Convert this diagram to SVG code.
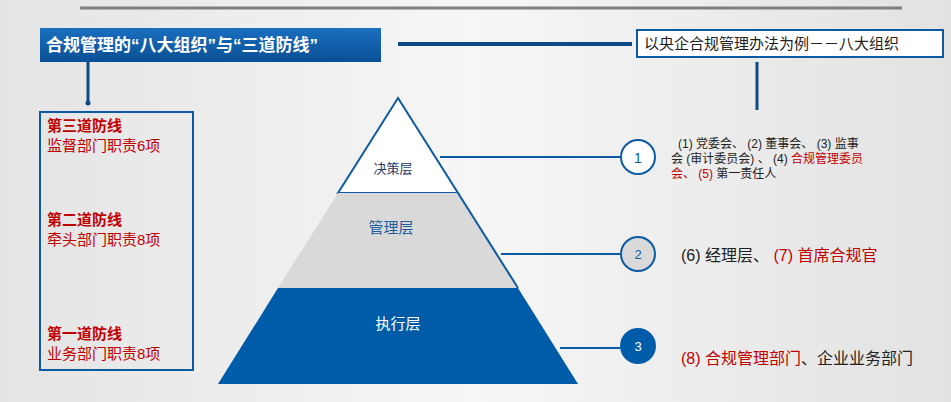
<svg xmlns="http://www.w3.org/2000/svg" width="951" height="402" viewBox="0 0 951 402">
<defs>
<linearGradient id="bg" x1="0" y1="0" x2="1" y2="0"><stop offset="0" stop-color="#e4e4e4"/><stop offset="0.5" stop-color="#f6f6f6"/><stop offset="1" stop-color="#e2e2e2"/></linearGradient>
<linearGradient id="tb" x1="0" y1="0" x2="0" y2="1"><stop offset="0" stop-color="#1a6fc0"/><stop offset="1" stop-color="#0a4f94"/></linearGradient>
<style>
text{font-family:"Liberation Sans","Noto Sans CJK SC",sans-serif}
.red{fill:#c00000}
.blk{fill:#222}
.ln{stroke:#0b5aa3;stroke-width:2;fill:none}
</style>
</defs>
<rect width="951" height="402" fill="url(#bg)"/>
<line x1="80" y1="8" x2="902" y2="8" stroke="#808080" stroke-width="3"/>
<g id="title">
<rect x="40" y="28" width="341" height="34" fill="url(#tb)"/>
<text x="46" y="51" font-size="17" font-weight="bold" fill="#fff">合规管理的“八大组织”与“三道防线”</text>
</g>
<g id="example">
<rect x="637" y="30" width="306" height="27" fill="#fff" stroke="#0b5aa3" stroke-width="2"/>
<text x="644" y="49" font-size="15" class="blk">以央企合规管理办法为例－－八大组织</text>
</g>
<g id="lines-box">
<rect x="40" y="112" width="153" height="258" fill="none" stroke="#0b5aa3" stroke-width="2"/>
<text x="47" y="131" font-size="15" font-weight="bold" class="red">第三道防线</text>
<text x="47" y="151" font-size="15" class="red">监督部门职责6项</text>
<text x="47" y="225" font-size="15" font-weight="bold" class="red">第二道防线</text>
<text x="47" y="245" font-size="15" class="red">牵头部门职责8项</text>
<text x="47" y="339" font-size="15" font-weight="bold" class="red">第一道防线</text>
<text x="47" y="359" font-size="15" class="red">业务部门职责8项</text>
</g>
<g id="pyramid">
<polygon points="398,98 458,193 338,193" fill="#fff" stroke="#0b5aa3" stroke-width="2"/>
<polygon points="338,193 458,193 518,288 278,288" fill="#d9d9d9"/>
<line x1="458" y1="193" x2="518" y2="288" stroke="#0b5aa3" stroke-width="2"/>
<polygon points="278,288 518,288 578,384 218,384" fill="#005ca8"/>
<text x="393" y="173" font-size="13" fill="#1f3864" text-anchor="middle">决策层</text>
<text x="391" y="233" font-size="15" fill="#1f5c9a" text-anchor="middle">管理层</text>
<text x="398" y="329" font-size="15" fill="#fff" text-anchor="middle">执行层</text>
</g>
<g id="connectors">
<line x1="88" y1="62" x2="88" y2="102" stroke="#0b4a85" stroke-width="3"/>
<circle cx="88" cy="103" r="2.5" fill="#0b4a85"/>
<line x1="398" y1="44" x2="632" y2="44" stroke="#0b4a85" stroke-width="4"/>
<line x1="757" y1="62" x2="757" y2="110" stroke="#0b4a85" stroke-width="3"/>
<line class="ln" x1="440" y1="157" x2="620" y2="157"/>
<line class="ln" x1="501" y1="254" x2="620" y2="254"/>
<line class="ln" x1="560" y1="348" x2="620" y2="348"/>
</g>
<g id="n1">
<circle cx="638" cy="157" r="17" fill="#fff" stroke="#0b5aa3" stroke-width="2"/>
<text x="638" y="163" font-size="14" fill="#0b5aa3" text-anchor="middle">1</text>
<text font-size="12" class="blk"><tspan x="678" y="148">(1) 党委会、 (2) 董事会、 (3) 监事</tspan><tspan x="671" y="163">会 (审计委员会) 、 (4) <tspan class="red">合规管理委员</tspan></tspan><tspan x="671" y="178"><tspan class="red">会、 (5)</tspan> 第一责任人</tspan></text>
</g>
<g id="n2">
<circle cx="638" cy="254" r="17" fill="#d9d9d9" stroke="#0b5aa3" stroke-width="2"/>
<text x="638" y="259" font-size="13" fill="#0b5aa3" text-anchor="middle">2</text>
<text x="681" y="261" font-size="16" class="blk">(6) 经理层、 <tspan class="red">(7) 首席合规官</tspan></text>
</g>
<g id="n3">
<circle cx="638" cy="346" r="18" fill="#005ca8"/>
<text x="638" y="351" font-size="13" fill="#fff" text-anchor="middle">3</text>
<text x="681" y="364" font-size="16" class="blk"><tspan class="red">(8) 合规管理部门</tspan>、企业业务部门</text>
</g>
</svg>
